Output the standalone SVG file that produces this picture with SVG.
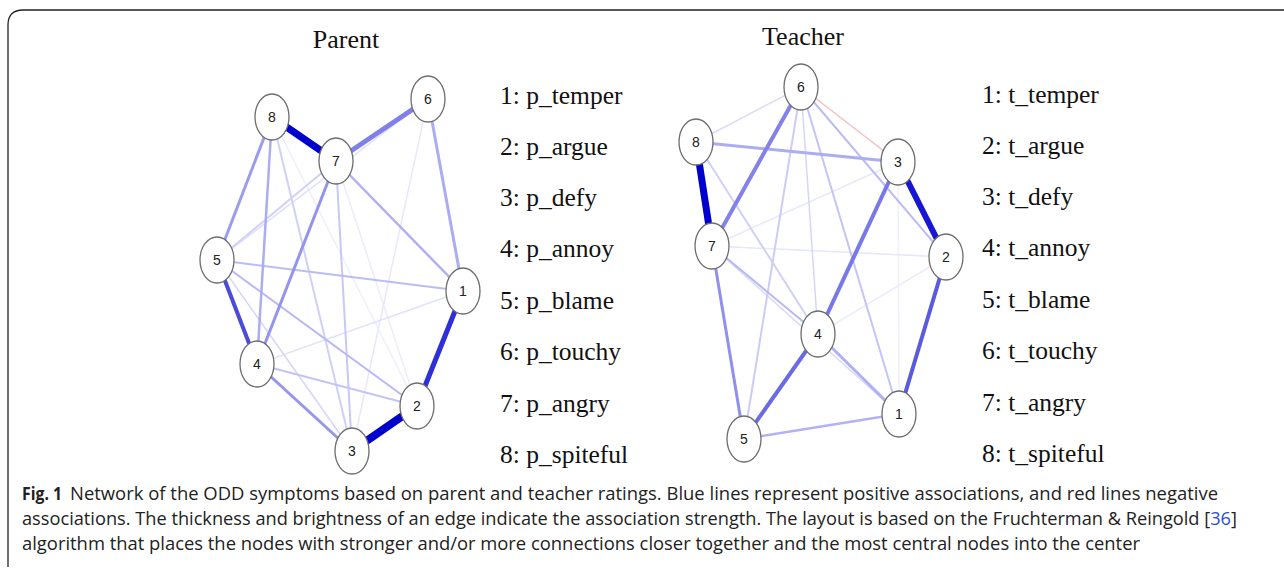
<svg xmlns="http://www.w3.org/2000/svg" width="1284" height="569" viewBox="0 0 1284 569">
<style>
.frame{fill:none;stroke:#222;stroke-width:1.3}
.node ellipse{fill:#fff;stroke:#6e6e6e;stroke-width:1.3}
.node text{font-family:"Liberation Sans",Arial,sans-serif;font-size:14px;fill:#222;text-anchor:middle}
.edges line{stroke-linecap:butt}
.title{font-family:"Liberation Serif","Times New Roman",serif;font-size:26px;fill:#111;text-anchor:middle}
.leg{font-family:"Liberation Serif","Times New Roman",serif;font-size:25.5px;fill:#111}
.cap{font-family:"Open Sans","Noto Sans",sans-serif;font-size:17.5px;fill:#222}
.capb{font-family:"Open Sans","Noto Sans",sans-serif;font-size:17.5px;font-weight:bold;fill:#222}
</style>
<rect width="1284" height="569" fill="#fff"/>
<path class="frame" d="M8,567 L8,25 Q8,10 23,10 L1284,10"/>

<text class="title" x="346" y="48">Parent</text>
<text class="title" x="803" y="45">Teacher</text>

<g id="parent-edges" class="edges">
<line x1="336" y1="161" x2="417" y2="406" stroke="#ececfd" stroke-width="1.5"/>
<line x1="272" y1="117" x2="417" y2="406" stroke="#efeffd" stroke-width="1.5"/>
<line x1="428" y1="99" x2="352" y2="451" stroke="#e8e8fc" stroke-width="1.5"/>
<line x1="257" y1="364" x2="463" y2="291" stroke="#e2e2fb" stroke-width="1.5"/>
<line x1="428" y1="99" x2="217" y2="260" stroke="#e0e0fb" stroke-width="1.5"/>
<line x1="217" y1="260" x2="352" y2="451" stroke="#d6d6f9" stroke-width="1.5"/>
<line x1="336" y1="161" x2="217" y2="260" stroke="#d0d0f8" stroke-width="2"/>
<line x1="272" y1="117" x2="352" y2="451" stroke="#d0d0f8" stroke-width="2"/>
<line x1="336" y1="161" x2="352" y2="451" stroke="#c8c8f7" stroke-width="2"/>
<line x1="257" y1="364" x2="417" y2="406" stroke="#c4c4f6" stroke-width="2"/>
<line x1="217" y1="260" x2="417" y2="406" stroke="#b8b8f4" stroke-width="2"/>
<line x1="217" y1="260" x2="463" y2="291" stroke="#bcbcf5" stroke-width="2"/>
<line x1="336" y1="161" x2="463" y2="291" stroke="#b0b0f3" stroke-width="2.5"/>
<line x1="272" y1="117" x2="257" y2="364" stroke="#acacf2" stroke-width="2.5"/>
<line x1="428" y1="99" x2="463" y2="291" stroke="#acacf2" stroke-width="3"/>
<line x1="272" y1="117" x2="217" y2="260" stroke="#9c9cef" stroke-width="3"/>
<line x1="336" y1="161" x2="257" y2="364" stroke="#9494ee" stroke-width="3"/>
<line x1="257" y1="364" x2="352" y2="451" stroke="#9696ee" stroke-width="3"/>
<line x1="336" y1="161" x2="428" y2="99" stroke="#8080e9" stroke-width="5"/>
<line x1="217" y1="260" x2="257" y2="364" stroke="#4a4adc" stroke-width="4"/>
<line x1="463" y1="291" x2="417" y2="406" stroke="#2f2fd8" stroke-width="5"/>
<line x1="417" y1="406" x2="352" y2="451" stroke="#0000cc" stroke-width="8"/>
<line x1="272" y1="117" x2="336" y2="161" stroke="#0000cc" stroke-width="7"/>
</g>

<g id="teacher-edges" class="edges">
<line x1="898" y1="162" x2="899" y2="414" stroke="#efeffd" stroke-width="1.5"/>
<line x1="946" y1="257" x2="818" y2="334" stroke="#ececfd" stroke-width="1.5"/>
<line x1="712" y1="246" x2="946" y2="257" stroke="#e6e6fc" stroke-width="1.5"/>
<line x1="712" y1="246" x2="898" y2="162" stroke="#e8e8fc" stroke-width="1.5"/>
<line x1="801" y1="87" x2="696" y2="142" stroke="#dcdcfa" stroke-width="1.5"/>
<line x1="712" y1="246" x2="899" y2="414" stroke="#d8d8f9" stroke-width="1.5"/>
<line x1="801" y1="87" x2="818" y2="334" stroke="#d6d6f9" stroke-width="1.5"/>
<line x1="696" y1="142" x2="818" y2="334" stroke="#d0d0f8" stroke-width="2"/>
<line x1="801" y1="87" x2="744" y2="439" stroke="#ccccf7" stroke-width="2"/>
<line x1="801" y1="87" x2="899" y2="414" stroke="#c4c4f6" stroke-width="2"/>
<line x1="801" y1="87" x2="946" y2="257" stroke="#bcbcf5" stroke-width="2"/>
<line x1="712" y1="246" x2="818" y2="334" stroke="#b8b8f4" stroke-width="2"/>
<line x1="744" y1="439" x2="899" y2="414" stroke="#b2b2f3" stroke-width="2.5"/>
<line x1="818" y1="334" x2="899" y2="414" stroke="#b0b0f2" stroke-width="3"/>
<line x1="696" y1="142" x2="898" y2="162" stroke="#acacf2" stroke-width="3"/>
<line x1="801" y1="87" x2="898" y2="162" stroke="#f2c0c0" stroke-width="1.5"/>
<line x1="712" y1="246" x2="744" y2="439" stroke="#9090ed" stroke-width="3"/>
<line x1="801" y1="87" x2="712" y2="246" stroke="#8282e9" stroke-width="4"/>
<line x1="898" y1="162" x2="818" y2="334" stroke="#7878e8" stroke-width="4"/>
<line x1="818" y1="334" x2="744" y2="439" stroke="#6a6ae5" stroke-width="4"/>
<line x1="946" y1="257" x2="899" y2="414" stroke="#5a5ae1" stroke-width="4"/>
<line x1="898" y1="162" x2="946" y2="257" stroke="#1616d4" stroke-width="6"/>
<line x1="696" y1="142" x2="712" y2="246" stroke="#0000cc" stroke-width="7"/>
</g>

<g id="p1" class="node"><ellipse cx="463" cy="291" rx="17" ry="23"/><text x="463" y="296">1</text></g>
<g id="p2" class="node"><ellipse cx="417" cy="406" rx="17" ry="23"/><text x="417" y="411">2</text></g>
<g id="p3" class="node"><ellipse cx="352" cy="451" rx="17" ry="23"/><text x="352" y="456">3</text></g>
<g id="p4" class="node"><ellipse cx="257" cy="364" rx="17" ry="23"/><text x="257" y="369">4</text></g>
<g id="p5" class="node"><ellipse cx="217" cy="260" rx="17" ry="23"/><text x="217" y="265">5</text></g>
<g id="p6" class="node"><ellipse cx="428" cy="99" rx="17" ry="23"/><text x="428" y="104">6</text></g>
<g id="p7" class="node"><ellipse cx="336" cy="161" rx="17" ry="23"/><text x="336" y="166">7</text></g>
<g id="p8" class="node"><ellipse cx="272" cy="117" rx="17" ry="23"/><text x="272" y="122">8</text></g>

<g id="t1" class="node"><ellipse cx="899" cy="414" rx="17" ry="23"/><text x="899" y="419">1</text></g>
<g id="t2" class="node"><ellipse cx="946" cy="257" rx="17" ry="23"/><text x="946" y="262">2</text></g>
<g id="t3" class="node"><ellipse cx="898" cy="162" rx="17" ry="23"/><text x="898" y="167">3</text></g>
<g id="t4" class="node"><ellipse cx="818" cy="334" rx="17" ry="23"/><text x="818" y="339">4</text></g>
<g id="t5" class="node"><ellipse cx="744" cy="439" rx="17" ry="23"/><text x="744" y="444">5</text></g>
<g id="t6" class="node"><ellipse cx="801" cy="87" rx="17" ry="23"/><text x="801" y="92">6</text></g>
<g id="t7" class="node"><ellipse cx="712" cy="246" rx="17" ry="23"/><text x="712" y="251">7</text></g>
<g id="t8" class="node"><ellipse cx="696" cy="142" rx="17" ry="23"/><text x="696" y="147">8</text></g>

<g id="parent-legend" class="leg">
<text x="500" y="104">1: p_temper</text>
<text x="500" y="155">2: p_argue</text>
<text x="500" y="206">3: p_defy</text>
<text x="500" y="257">4: p_annoy</text>
<text x="500" y="309">5: p_blame</text>
<text x="500" y="360">6: p_touchy</text>
<text x="500" y="412">7: p_angry</text>
<text x="500" y="463">8: p_spiteful</text>
</g>
<g id="teacher-legend" class="leg">
<text x="982" y="103">1: t_temper</text>
<text x="982" y="154">2: t_argue</text>
<text x="982" y="205">3: t_defy</text>
<text x="982" y="256">4: t_annoy</text>
<text x="982" y="308">5: t_blame</text>
<text x="982" y="359">6: t_touchy</text>
<text x="982" y="411">7: t_angry</text>
<text x="982" y="462">8: t_spiteful</text>
</g>

<g id="caption">
<text class="capb" x="22" y="500" textLength="40" lengthAdjust="spacingAndGlyphs">Fig. 1</text>
<text class="cap" x="70" y="500" textLength="1148" lengthAdjust="spacingAndGlyphs">Network of the ODD symptoms based on parent and teacher ratings. Blue lines represent positive associations, and red lines negative</text>
<text class="cap" x="22" y="525" textLength="1215" lengthAdjust="spacingAndGlyphs">associations. The thickness and brightness of an edge indicate the association strength. The layout is based on the Fruchterman &amp; Reingold [<tspan fill="#2b4fd6">36</tspan>]</text>
<text class="cap" x="22" y="550" textLength="1118" lengthAdjust="spacingAndGlyphs">algorithm that places the nodes with stronger and/or more connections closer together and the most central nodes into the center</text>
</g>
</svg>
